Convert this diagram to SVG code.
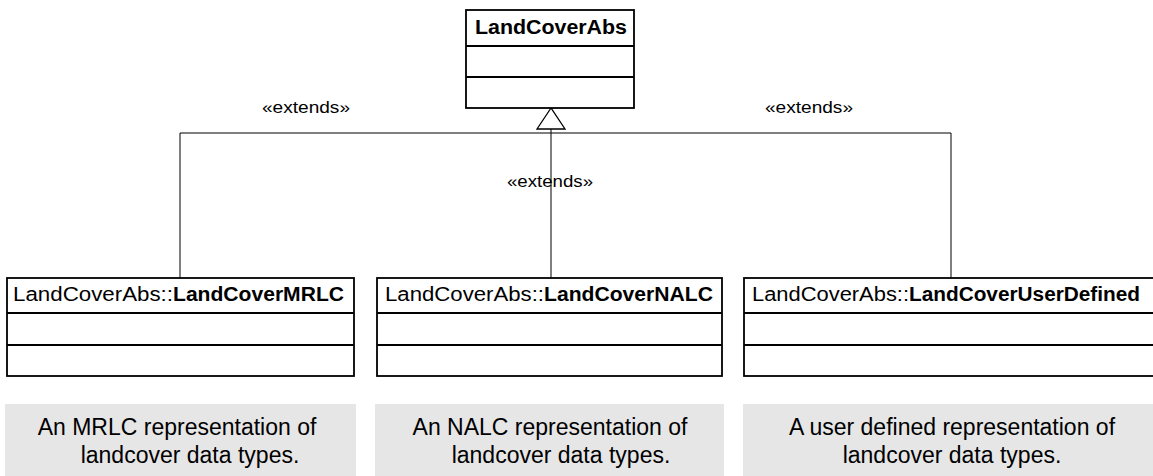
<svg xmlns="http://www.w3.org/2000/svg" width="1153" height="476" viewBox="0 0 1153 476">
<style>
.box{fill:#fff;stroke:#000;stroke-width:1.8}
.div{stroke:#000;stroke-width:1.8}
.conn{fill:none;stroke:#000;stroke-width:1}
.t{font-family:"Liberation Sans",Arial,sans-serif;font-size:20px;fill:#000}
.b{font-weight:bold}
.lbl{font-family:"Liberation Sans",Arial,sans-serif;font-size:16px;fill:#000}
.note{fill:#e6e6e6}
.nt{font-family:"Liberation Sans",Arial,sans-serif;font-size:23px;fill:#000;text-anchor:middle}
</style>
<rect x="0" y="0" width="1153" height="476" fill="#fff"/>
<g id="connectors">
<polyline class="conn" points="180,278 180,133 951,133 951,278"/>
<line class="conn" x1="551" y1="129" x2="551" y2="278"/>
<polygon points="551,108 537,129 565,129" fill="#fff" stroke="#000" stroke-width="1.3"/>
<text class="lbl" x="262" y="113" textLength="88" lengthAdjust="spacingAndGlyphs">«extends»</text>
<text class="lbl" x="765" y="113" textLength="88" lengthAdjust="spacingAndGlyphs">«extends»</text>
<text class="lbl" x="507" y="187" textLength="86" lengthAdjust="spacingAndGlyphs">«extends»</text>
</g>
<g id="LandCoverAbs">
<rect class="box" x="466" y="10" width="168" height="98"/>
<line class="div" x1="466" y1="46" x2="634" y2="46"/>
<line class="div" x1="466" y1="77" x2="634" y2="77"/>
<text class="t b" x="475" y="34" textLength="152" lengthAdjust="spacingAndGlyphs">LandCoverAbs</text>
</g>
<g id="LandCoverMRLC">
<rect class="box" x="7" y="278" width="347" height="98"/>
<line class="div" x1="7" y1="313" x2="354" y2="313"/>
<line class="div" x1="7" y1="345" x2="354" y2="345"/>
<text class="t" x="13" y="301" textLength="160" lengthAdjust="spacingAndGlyphs">LandCoverAbs::</text>
<text class="t b" x="173" y="301" textLength="171" lengthAdjust="spacingAndGlyphs">LandCoverMRLC</text>
</g>
<g id="LandCoverNALC">
<rect class="box" x="377" y="278" width="345" height="98"/>
<line class="div" x1="377" y1="313" x2="722" y2="313"/>
<line class="div" x1="377" y1="345" x2="722" y2="345"/>
<text class="t" x="385" y="301" textLength="159" lengthAdjust="spacingAndGlyphs">LandCoverAbs::</text>
<text class="t b" x="544" y="301" textLength="169" lengthAdjust="spacingAndGlyphs">LandCoverNALC</text>
</g>
<g id="LandCoverUserDefined">
<rect class="box" x="744" y="278" width="420" height="98"/>
<line class="div" x1="744" y1="313" x2="1164" y2="313"/>
<line class="div" x1="744" y1="345" x2="1164" y2="345"/>
<text class="t" x="752" y="301" textLength="157" lengthAdjust="spacingAndGlyphs">LandCoverAbs::</text>
<text class="t b" x="909" y="301" textLength="231" lengthAdjust="spacingAndGlyphs">LandCoverUserDefined</text>
</g>
<g id="note1">
<rect class="note" x="5" y="404" width="351" height="72"/>
<text class="nt" x="177" y="435">An MRLC representation of</text>
<text class="nt" x="190" y="463">landcover data types.</text>
</g>
<g id="note2">
<rect class="note" x="375" y="404" width="349" height="72"/>
<text class="nt" x="550" y="435">An NALC representation of</text>
<text class="nt" x="561" y="463">landcover data types.</text>
</g>
<g id="note3">
<rect class="note" x="743" y="404" width="420" height="72"/>
<text class="nt" x="952" y="435">A user defined representation of</text>
<text class="nt" x="952" y="463">landcover data types.</text>
</g>
</svg>
